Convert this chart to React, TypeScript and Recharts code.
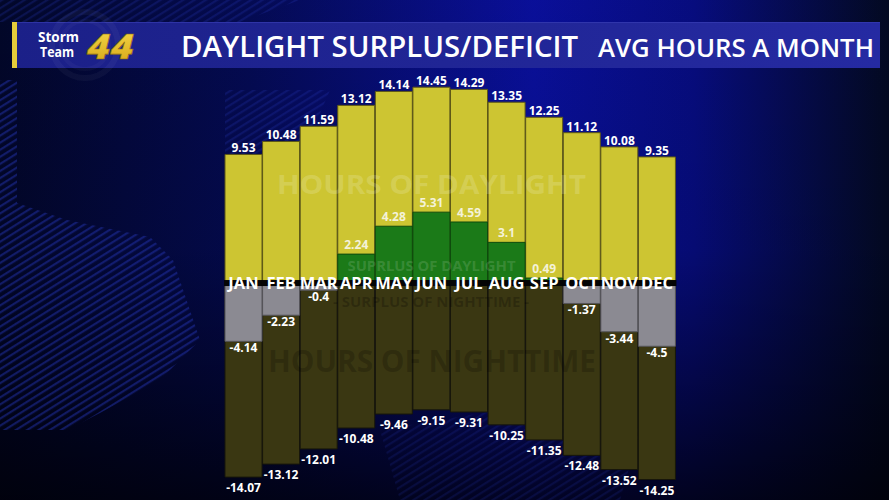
import React from 'react';
import { BarChart, Bar, XAxis, YAxis, LabelList } from 'recharts';

const W = 889;
const H = 500;

const months = ['JAN', 'FEB', 'MAR', 'APR', 'MAY', 'JUN', 'JUL', 'AUG', 'SEP', 'OCT', 'NOV', 'DEC'];
const daylightHours = [9.53, 10.48, 11.59, 13.12, 14.14, 14.45, 14.29, 13.35, 12.25, 11.12, 10.08, 9.35];
const surplusHours = [0, 0, 0, 2.24, 4.28, 5.31, 4.59, 3.1, 0.49, 0, 0, 0];
const nighttimeHours = [-14.07, -13.12, -12.01, -10.48, -9.46, -9.15, -9.31, -10.25, -11.35, -12.48, -13.52, -14.25];
const deficitHours = [-4.14, -2.23, -0.4, 0, 0, 0, 0, 0, 0, -1.37, -3.44, -4.5];

const data = months.map((m, i) => ({
  month: m,
  daylight: daylightHours[i],
  surplus: surplusHours[i],
  nighttime: nighttimeHours[i],
  deficit: deficitHours[i],
}));

const FONT = '"Open Sans", "DejaVu Sans", sans-serif';

const box = (p: any) => {
  const vb = p.viewBox || {};
  const x = Number(vb.x ?? p.x);
  const y = Number(vb.y ?? p.y);
  const w = Number(vb.width ?? p.width);
  const h = Number(vb.height ?? p.height);
  return { x, w, top: Math.min(y, y + h), bottom: Math.max(y, y + h) };
};

const fmt = (v: any) => String(v);

const makeLabel = (kind: 'up' | 'surplus' | 'down' | 'deficit') => (p: any) => {
  const v = Number(p.value);
  if (!v) return null;
  const b = box(p);
  const cx = b.x + b.w / 2;
  let y = 0;
  if (kind === 'up') y = b.top - 2;
  else if (kind === 'surplus') y = b.top - 5;
  else if (kind === 'down') y = b.bottom + 15;
  else y = b.bottom + 11;
  return (
    <text
      x={cx}
      y={y}
      textAnchor="middle"
      fontFamily={FONT}
      fontWeight={700}
      fontSize={12}
      fill={kind === 'surplus' ? '#f4f2d8' : '#ffffff'}
    >
      {fmt(p.value)}
    </text>
  );
};

// month name sits on the zero line, over a black axis strip
const MonthLabel = (p: any) => {
  const b = box(p);
  const zero = b.top;
  return (
    <g>
      <rect x={b.x - 1} y={zero - 4.7} width={b.w + 2} height={6} fill="#050505" />
      <text
        x={b.x + b.w / 2}
        y={zero + 4.5}
        textAnchor="middle"
        fontFamily={FONT}
        fontWeight={700}
        fontSize={16.5}
        fill="#ffffff"
      >
        {p.value}
      </text>
    </g>
  );
};

function Background() {
  return (
    <svg width={W} height={H} style={{ position: 'absolute', left: 0, top: 0 }}>
      <defs>
        <linearGradient id="bgH" x1="0" y1="0" x2="1" y2="0">
          <stop offset="0" stopColor="#02072a" />
          <stop offset="0.28" stopColor="#040b55" />
          <stop offset="0.6" stopColor="#0a10a0" />
          <stop offset="0.78" stopColor="#070d84" />
          <stop offset="1" stopColor="#030a22" />
        </linearGradient>
        <linearGradient id="bgV" x1="0" y1="0" x2="0" y2="1">
          <stop offset="0" stopColor="#000010" stopOpacity="0.05" />
          <stop offset="0.5" stopColor="#000010" stopOpacity="0.15" />
          <stop offset="1" stopColor="#000006" stopOpacity="0.8" />
        </linearGradient>
        <pattern id="stripes" width="6" height="6" patternUnits="userSpaceOnUse" patternTransform="rotate(-32)">
          <rect width="6" height="2.2" fill="#2536b8" />
        </pattern>
        <linearGradient id="banner" x1="0" y1="0" x2="1" y2="0">
          <stop offset="0" stopColor="#1b2088" />
          <stop offset="1" stopColor="#252aa2" />
        </linearGradient>
        <linearGradient id="gold" x1="0" y1="0" x2="0" y2="1">
          <stop offset="0" stopColor="#f8e050" />
          <stop offset="1" stopColor="#d4a012" />
        </linearGradient>
      </defs>
      <rect width={W} height={H} fill="url(#bgH)" />
      <rect width={W} height={H} fill="url(#bgV)" />
      <polygon points="0,0 300,0 240,22 0,22" fill="url(#stripes)" opacity={0.25} />
      <polygon points="0,80 17,80 17,203 67,220 150,237 173,260 200,340 160,380 100,413 67,430 0,430" fill="url(#stripes)" opacity={0.45} />
      <polygon points="225,90 330,90 300,160 225,160" fill="url(#stripes)" opacity={0.25} />
      <polygon points="380,430 560,400 640,430 620,500 400,500" fill="url(#stripes)" opacity={0.18} />
      {/* header banner */}
      <rect x={12} y={22} width={868} height={46} fill="url(#banner)" />
      <rect x={12} y={22} width={868} height={1} fill="#3a40b8" opacity={0.6} />
      <rect x={12} y={22} width={5} height={46} fill="#e6cc3a" />
      <circle cx={85} cy={45} r={33} fill="none" stroke="#ffffff" strokeOpacity={0.04} strokeWidth={6} />
      <circle cx={85} cy={45} r={24} fill="none" stroke="#ffffff" strokeOpacity={0.03} strokeWidth={4} />
      <text x={38} y={42} fontFamily={FONT} fontWeight={700} fontSize={13.5} fill="#ffffff" textLength={41} lengthAdjust="spacingAndGlyphs">Storm</text>
      <text x={40} y={57} fontFamily={FONT} fontWeight={700} fontSize={13.5} fill="#ffffff" textLength={34} lengthAdjust="spacingAndGlyphs">Team</text>
      <text x={87} y={59} fontFamily={FONT} fontWeight={800} fontStyle="italic" fontSize={36} fill="url(#gold)" stroke="#8a6a08" strokeWidth={0.6} textLength={47} lengthAdjust="spacingAndGlyphs">44</text>
      <text x={181} y={57} fontFamily={FONT} fontWeight={600} fontSize={29} fill="#ffffff" textLength={397} lengthAdjust="spacingAndGlyphs">DAYLIGHT SURPLUS/DEFICIT</text>
      <text x={598} y={57} fontFamily={FONT} fontWeight={600} fontSize={25.5} fill="#ffffff" textLength={276} lengthAdjust="spacingAndGlyphs">AVG HOURS A MONTH</text>
    </svg>
  );
}

function Watermarks() {
  return (
    <svg width={W} height={H} style={{ position: 'absolute', left: 0, top: 0, pointerEvents: 'none' }}>
      <text x={431.5} y={194} textAnchor="middle" fontFamily={FONT} fontWeight={700} fontSize={27} fill="#ffffff" fillOpacity={0.17} textLength={309} lengthAdjust="spacingAndGlyphs">HOURS OF DAYLIGHT</text>
      <text x={431.5} y={271} textAnchor="middle" fontFamily={FONT} fontWeight={700} fontSize={15} fill="#ffffff" fillOpacity={0.14} textLength={168} lengthAdjust="spacingAndGlyphs">SUPRLUS OF DAYLIGHT</text>
      <text x={431} y={307} textAnchor="middle" fontFamily={FONT} fontWeight={700} fontSize={15} fill="#000000" fillOpacity={0.22} textLength={196} lengthAdjust="spacingAndGlyphs">- SURPLUS OF NIGHTTIME -</text>
      <text x={432} y={372} textAnchor="middle" fontFamily={FONT} fontWeight={700} fontSize={30} fill="#000000" fillOpacity={0.2} textLength={328} lengthAdjust="spacingAndGlyphs">HOURS OF NIGHTTIME</text>
    </svg>
  );
}

export default function App() {
  return (
    <div style={{ position: 'fixed', left: 0, top: 0, width: W, height: H, overflow: 'hidden', background: '#030828' }}>
      <Background />
      <div style={{ position: 'absolute', left: 0, top: 0 }}>
        <BarChart
          width={W}
          height={H}
          data={data}
          margin={{ top: 66, right: 213, bottom: 2, left: 225 }}
          barSize={37}
          barGap={-37}
        >
          <XAxis dataKey="month" hide />
          <YAxis hide type="number" domain={[-15.6, 16]} allowDataOverflow />
          <Bar dataKey="daylight" fill="#cdc532" stroke="#5e5816" strokeWidth={1} isAnimationActive={false}>
            <LabelList dataKey="daylight" content={makeLabel('up')} />
          </Bar>
          <Bar dataKey="surplus" fill="#1b7a18" stroke="#0f4a0d" strokeWidth={1} isAnimationActive={false}>
            <LabelList dataKey="surplus" content={makeLabel('surplus')} />
          </Bar>
          <Bar dataKey="nighttime" fill="#3a3712" stroke="#17160a" strokeWidth={1} isAnimationActive={false}>
            <LabelList dataKey="nighttime" content={makeLabel('down')} />
          </Bar>
          <Bar dataKey="deficit" fill="#8b8a92" stroke="#55545a" strokeWidth={1} isAnimationActive={false}>
            <LabelList dataKey="deficit" content={makeLabel('deficit')} />
          </Bar>
          {/* invisible carrier series: draws the month names on the zero line above all bars */}
          <Bar dataKey="nighttime" fill="transparent" stroke="none" isAnimationActive={false}>
            <LabelList dataKey="month" content={MonthLabel} />
          </Bar>
        </BarChart>
      </div>
      <Watermarks />
    </div>
  );
}
